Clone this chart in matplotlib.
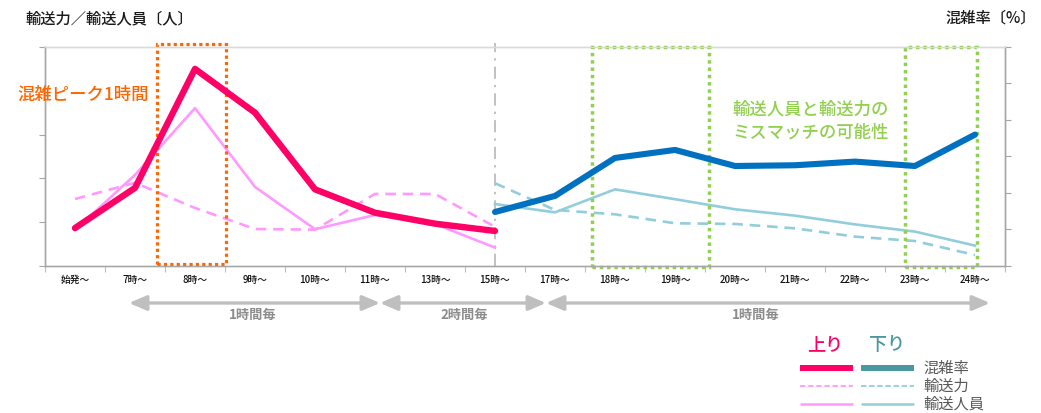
import matplotlib
matplotlib.use("Agg")
import matplotlib.pyplot as plt
from matplotlib.lines import Line2D
from matplotlib.patches import Rectangle, FancyArrowPatch
import matplotlib.transforms as mtransforms

plt.rcParams['font.family'] = ['Noto Sans CJK JP', 'DejaVu Sans']

# ---- data ----
hours = ["始発～", "7時～", "8時～", "9時～", "10時～", "11時～", "13時～", "15時～",
         "17時～", "18時～", "19時～", "20時～", "21時～", "22時～", "23時～", "24時～"]

# inbound (上り): 始発～ .. 15時～
up_rate = [52, 107, 270, 210, 105, 73, 58, 48]               # 混雑率 [%]
up_capacity = [30.6, 38.0, 26.5, 16.9, 16.6, 32.9, 32.9, 17.9]  # 輸送力
up_passengers = [16.4, 41.6, 72.1, 36.1, 16.8, 23.3, 19.2, 8.4]  # 輸送人員

# outbound (下り): 15時～ .. 24時～
down_rate = [74, 96, 148, 159, 137, 138, 143, 137, 180]
down_capacity = [37.8, 25.6, 23.6, 19.5, 19.2, 17.2, 13.4, 11.4, 5.0]
down_passengers = [28.3, 24.5, 35.0, 30.5, 25.9, 23.0, 19.0, 15.7, 9.3]

interval_labels = ["1時間毎", "2時間毎", "1時間毎"]

# ---- colours ----
PINK = '#FF0066'
PINK_LIGHT = '#FF99FF'
BLUE = '#0070C0'
BLUE_LIGHT = '#92CDDC'
TEAL = '#4A989F'
ORANGE = '#FF6600'
GREEN = '#92D050'
GRID_GRAY = '#A6A6A6'

W, H = 1041, 413
fig = plt.figure(figsize=(W / 100, H / 100), dpi=100)


def fx(px):
    return px / W


def fy(py):
    return 1 - py / H


ax = fig.add_axes([fx(45), fy(266), fx(1005) - fx(45), fy(47) - fy(266)])
ax2 = ax.twinx()

n = len(hours)
x_all = list(range(n))
up_x = x_all[:len(up_rate)]
down_x = x_all[len(up_rate) - 1:]

# passengers / capacity on the left scale
ax.plot(up_x, up_capacity, color=PINK_LIGHT, lw=1.9, ls=(0, (4, 2.6)), zorder=2)
ax.plot(up_x, up_passengers, color=PINK_LIGHT, lw=1.9, zorder=2)
ax.plot(down_x, down_capacity, color=BLUE_LIGHT, lw=1.9, ls=(0, (4, 2.6)), zorder=2)
ax.plot(down_x, down_passengers, color=BLUE_LIGHT, lw=1.9, zorder=2)

# congestion rate on the right scale
ax2.plot(up_x, up_rate, color=PINK, lw=4.6, solid_capstyle='round', zorder=3)
ax2.plot(down_x, down_rate, color=BLUE, lw=4.4, solid_capstyle='round', zorder=3)

ax.set_xlim(-0.5, n - 0.5)
ax.set_ylim(0, 100)
ax2.set_ylim(0, 300)
ax.set_yticks(range(0, 101, 20))
ax2.set_yticks(range(0, 301, 50))
ax.set_yticklabels([])
ax2.set_yticklabels([])

# category boundaries carry the tick marks, centres carry the labels
ax.set_xticks([i - 0.5 for i in range(n + 1)])
ax.set_xticklabels([])
ax.set_xticks(x_all, minor=True)
ax.set_xticklabels(hours, minor=True, fontsize=7, color='#111111', fontweight='medium')
ax.tick_params(axis='x', which='major', length=4, color='#BFBFBF', direction='out')
ax.tick_params(axis='x', which='minor', length=0, pad=6.5)
ax.tick_params(axis='y', length=4, color=GRID_GRAY, direction='out')
ax2.tick_params(axis='y', length=4, color=GRID_GRAY, direction='out')

for a in (ax, ax2):
    for side in ('left', 'bottom', 'right'):
        a.spines[side].set_color(GRID_GRAY)
        a.spines[side].set_linewidth(1.0)
    a.spines['top'].set_color('#D9D9D9')
    a.spines['top'].set_linewidth(1.0)
ax.spines['bottom'].set_color('#BFBFBF')

ax2.set_zorder(ax.get_zorder() + 1)
ax2.patch.set_visible(False)

blend = mtransforms.blended_transform_factory(ax.transData, ax.transAxes)

# divider between inbound and outbound sections
split = len(up_rate) - 1
ax.add_line(Line2D([split, split], [0, 1.02], transform=blend, color='#B0B0B0',
                   lw=1.1, ls=(0, (8, 4, 1.5, 4)), clip_on=False, zorder=1))

# highlighted periods
ax.add_patch(Rectangle((1.37, 0.01), 2.52 - 1.37, 1.004, transform=blend, fill=False,
                       edgecolor=ORANGE, lw=2.3, ls=(0, (1, 1)), clip_on=False, zorder=4))
ax.add_patch(Rectangle((8.62, -0.005), 10.57 - 8.62, 1.005, transform=blend, fill=False,
                       edgecolor=GREEN, lw=2.5, ls=(0, (1, 1.1)), clip_on=False, zorder=4))
ax.add_patch(Rectangle((13.83, -0.005), 15.03 - 13.83, 1.005, transform=blend, fill=False,
                       edgecolor=GREEN, lw=2.5, ls=(0, (1, 1.1)), clip_on=False, zorder=4))

fig.text(fx(17), fy(95), "混雑ピーク1時間", color=ORANGE, fontsize=12.5,
         ha='left', va='center', fontweight='medium')
fig.text(fx(811), fy(110), "輸送人員と輸送力の", color=GREEN, fontsize=12.5,
         ha='center', va='center', fontweight='medium')
fig.text(fx(811), fy(133), "ミスマッチの可能性", color=GREEN, fontsize=12.5,
         ha='center', va='center', fontweight='medium')

# axis titles
fig.text(fx(26), fy(19), "輸送力／輸送人員〔人〕", fontsize=11, color='#1A1A1A',
         ha='left', va='center', fontweight='medium')
fig.text(fx(1036), fy(18), "混雑率〔%〕", fontsize=11, color='#1A1A1A',
         ha='right', va='center', fontweight='medium')

# timetable interval arrows
arrow_spans = [(129, 380), (380, 546), (546, 990)]
label_x = [253, 464, 756]
for (x0, x1), lx, txt in zip(arrow_spans, label_x, interval_labels):
    arr = FancyArrowPatch((fx(x0), fy(303)), (fx(x1), fy(303)),
                          transform=fig.transFigure,
                          arrowstyle='<|-|>,head_length=1.05,head_width=0.45',
                          mutation_scale=10, color='#BFBFBF', lw=2.4,
                          shrinkA=0, shrinkB=0)
    fig.add_artist(arr)
    fig.text(fx(lx), fy(315), txt, fontsize=9.5, color='#8C8C8C', ha='center',
             va='center', fontweight='bold')

# legend
fig.text(fx(825), fy(345), "上り", color=PINK, fontsize=13, ha='center', va='center',
         fontweight='medium')
fig.text(fx(887), fy(345), "下り", color=TEAL, fontsize=13, ha='center', va='center',
         fontweight='medium')
legend_rows = [
    ("混雑率", 368, PINK, TEAL, 4.3, '-'),
    ("輸送力", 386, PINK_LIGHT, BLUE_LIGHT, 1.3, (0, (3, 1.5))),
    ("輸送人員", 404, PINK_LIGHT, BLUE_LIGHT, 1.8, '-'),
]
for label, py, c_up, c_down, lw, ls in legend_rows:
    fig.add_artist(Line2D([fx(800), fx(853)], [fy(py), fy(py)], transform=fig.transFigure,
                          color=c_up, lw=lw, ls=ls, solid_capstyle='butt'))
    fig.add_artist(Line2D([fx(861), fx(914)], [fy(py), fy(py)], transform=fig.transFigure,
                          color=c_down, lw=lw, ls=ls, solid_capstyle='butt'))
    fig.text(fx(923), fy(py), label, fontsize=11, color='#595959', ha='left', va='center')

fig.savefig("out.png", dpi=100)
